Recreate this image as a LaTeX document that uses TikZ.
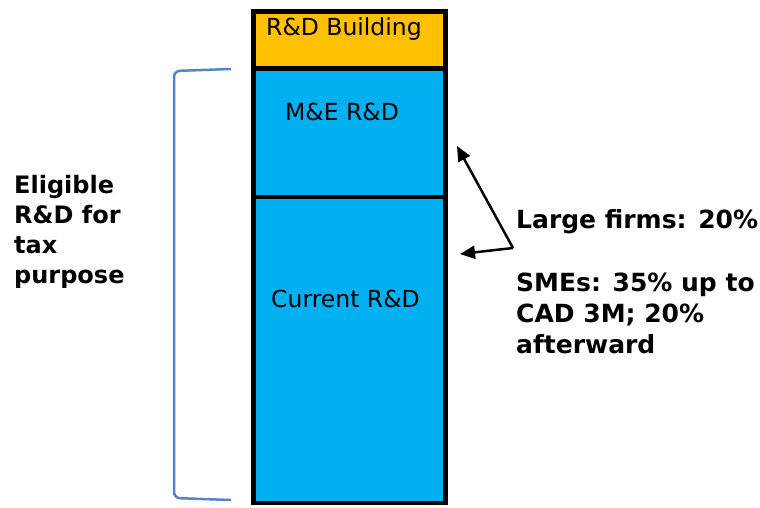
\documentclass[tikz,border=0pt]{standalone}
\usepackage{fontspec}
\setmainfont{DejaVu Sans}
\usetikzlibrary{arrows.meta}
\definecolor{bldg}{HTML}{FFC000}
\definecolor{rdblue}{HTML}{00B0F0}
\definecolor{brace}{HTML}{5585C5}
\tikzset{
  colbox/.style={draw=black, line width=4.5pt, anchor=north west, inner sep=0pt, outer sep=0pt},
  intext/.style={font=\fontsize{23.5}{28}\selectfont, inner sep=0pt, anchor=base west},
  boldtext/.style={font=\fontsize{25}{31}\selectfont\bfseries, inner sep=0pt, align=left},
  arr/.style={line width=2.5pt, -{Triangle[length=15pt,width=13pt]}}
}
\begin{document}
\begin{tikzpicture}[x=1pt,y=-1pt]
\useasboundingbox (0,0) rectangle (760,508);
% column
\node[colbox, fill=rdblue, minimum width=192, minimum height=306] (cur) at (253.5,197) {};
\node[colbox, fill=rdblue, minimum width=192, minimum height=128.5] (me) at (253.5,68.5) {};
\node[colbox, fill=bldg, minimum width=192, minimum height=57] (bld) at (253.5,11.5) {};
\node[intext] (tb) at (266,36) {R\&D Building};
\node[intext] (tm) at (285,121) {M\&E R\&D};
\node[intext] (tc) at (271,307) {Current R\&D};
% bracket
\draw[brace, line width=2.5pt, rounded corners=6pt] (231,69) -- (174,71) -- (174,498) -- (231,500);
% left label
\node[boldtext, font=\fontsize{24}{30}\selectfont\bfseries, anchor=north west] (elig) at (14,175) {Eligible\\R\&D for\\tax\\purpose};
% right labels
\node[boldtext, anchor=base west] (large) at (516,228) {Large firms: 20\%};
\node[boldtext, anchor=north west] (sme) at (516,273) {SMEs: 35\% up to\\CAD 3M; 20\%\\afterward};
% arrows
\coordinate (apex) at (513,248);
\coordinate (tipme) at (457,146);
\coordinate (tipcur) at (460,254);
\draw[arr] (apex) -- (tipme);
\draw[arr] (apex) -- (tipcur);
\end{tikzpicture}
\end{document}
